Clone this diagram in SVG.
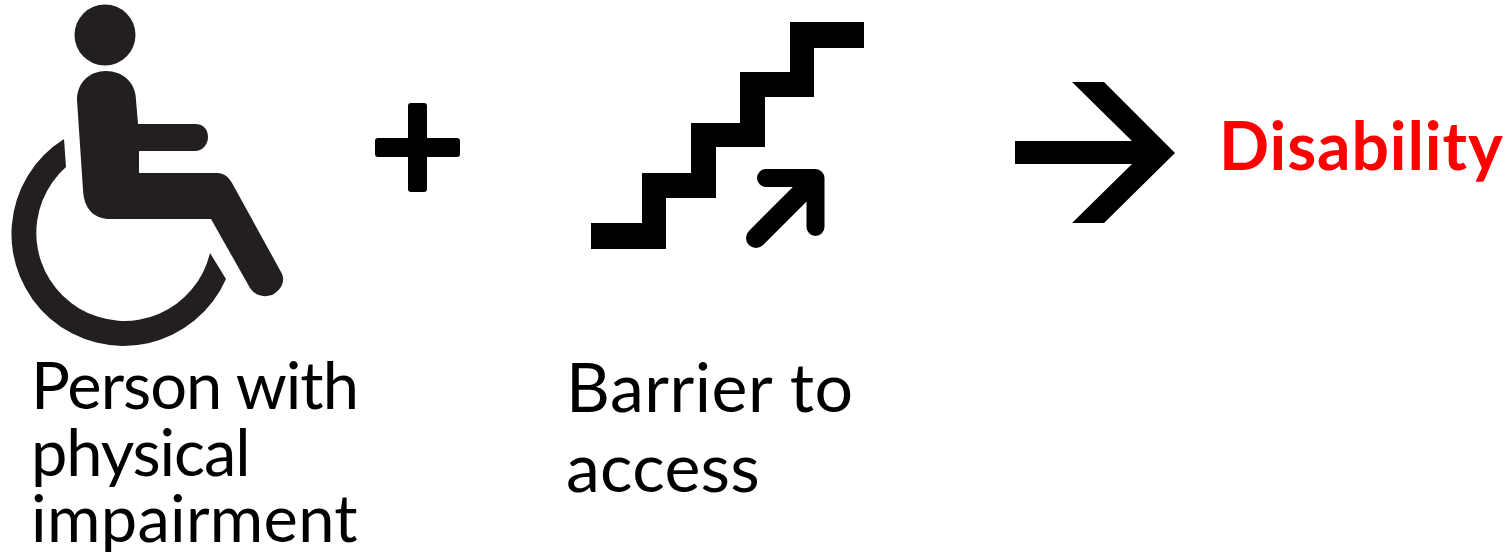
<svg xmlns="http://www.w3.org/2000/svg" width="1511" height="552" viewBox="0 0 1511 552">
<style>
.l{font-family:Lato,"Open Sans",sans-serif;font-size:65px;fill:#000}
.b{font-family:Lato,"Open Sans",sans-serif;font-size:68px;fill:#000}
.d{font-family:Lato,"Open Sans",sans-serif;font-size:66px;font-weight:700;fill:#f00}
.k{fill:#231f20}
</style>
<rect width="1511" height="552" fill="#fff"/>
<g id="wheelchair">
<circle class="k" cx="105" cy="35" r="30.5"/>
<path class="k" d="M77,100C77,82 90,71 106,71C122,71 136,82 136,100L138,124L195,124C204,124 208,130 208,137C208,145 202,151 195,151L139,151L139,173L218,173C226,174 229,178 232,183L281,272C286,280 282,290 272,295C262,298 255,295 250,288L211,219L110,219C95,219 84,210 83,190Z"/>
<path class="k" d="M64,139A112,112 0 1 0 226,279L210,253A88,88 0 1 1 66,167Z"/>
</g>
<g id="plus"><path d="M411,103h13q3,0 3,3v32h30q3,0 3,3v13q0,3 -3,3h-30v32q0,3 -3,3h-13q-3,0 -3,-3v-32h-30q-3,0 -3,-3v-13q0,-3 3,-3h30v-32q0,-3 3,-3z" fill="#000"/></g>
<g id="stairs">
<path d="M790,22H864V48H814V97H765V147H716V198H666V249H591V223H642V173H691V123H740V72H790Z" fill="#000"/>
<path d="M766,178H815.5V227" fill="none" stroke="#000" stroke-width="18" stroke-linecap="round" stroke-linejoin="round"/>
<path d="M813,181L756,238" fill="none" stroke="#000" stroke-width="20" stroke-linecap="round"/>
</g>
<g id="connectors"><path d="M1015,141H1132L1072,82H1104L1175,153L1104,223H1072L1132,164H1015Z" fill="#000"/></g>
<g id="labels">
<text class="l" x="31" y="409" letter-spacing="-1">Person with</text>
<text class="l" x="31" y="476" letter-spacing="-1.1">physical</text>
<text class="l" x="31" y="542" letter-spacing="0.3">impairment</text>
<text class="b" x="566" y="412" letter-spacing="0.5">Barrier to</text>
<text class="b" x="566" y="492" letter-spacing="0.3">access</text>
<text class="d" x="1219" y="170" letter-spacing="0.9">Disability</text>
</g>
</svg>
